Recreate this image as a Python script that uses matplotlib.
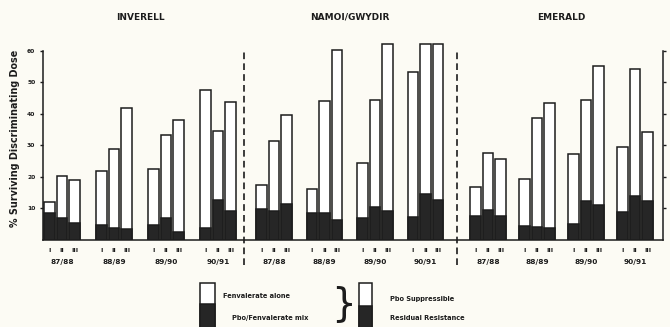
import matplotlib
matplotlib.use('Agg')
import matplotlib.pyplot as plt
from matplotlib.patches import Rectangle

# % surviving discriminating dose, three strains (I, II, III) per season
sites = ['INVERELL', 'NAMOI/GWYDIR', 'EMERALD']
seasons = ['87/88', '88/89', '89/90', '90/91']
strains = ['I', 'II', 'III']

# total height = fenvalerate alone
inverell_total = [12.0, 20.3, 19.0, 21.7, 28.9, 41.7, 22.3, 33.3, 38.1, 47.5, 34.4, 43.6]
namoi_total = [17.4, 31.3, 39.5, 16.1, 44.0, 60.3, 24.3, 44.2, 62.0, 53.2, 62.0, 62.0]
emerald_total = [16.8, 27.4, 25.5, 19.1, 38.7, 43.2, 27.3, 44.3, 55.0, 29.5, 54.0, 34.0]

# dark part = pbo/fenvalerate mix (residual resistance)
inverell_mix = [8.3, 6.9, 5.3, 4.7, 3.6, 3.3, 4.7, 6.8, 2.3, 3.6, 12.4, 9.0]
namoi_mix = [9.6, 9.0, 11.3, 8.5, 8.3, 6.3, 6.8, 10.3, 9.2, 7.1, 14.5, 12.6]
emerald_mix = [7.6, 9.5, 7.6, 4.4, 4.1, 3.6, 5.0, 12.3, 10.8, 8.7, 13.7, 12.3]

y_ticks = [10, 20, 30, 40, 50, 60]

totals = [inverell_total, namoi_total, emerald_total]
mixes = [inverell_mix, namoi_mix, emerald_mix]

W, H = 670, 327
bg = '#fcfbf4'
ink = '#1c1c1c'

fig = plt.figure(figsize=(W / 100, H / 100), dpi=100, facecolor=bg)

# main axes; x runs in figure pixels so the three panels can be laid out freely
x_left, x_right = 43, 663
y_base, y_top = 239.5, 38
ax = fig.add_axes([x_left / W, 1 - y_base / H, (x_right - x_left) / W, (y_base - y_top) / H])
ax.set_facecolor('none')
ax.set_xlim(x_left, x_right)
ax.set_ylim(0, 64)

panel_x0 = [44, 256, 470]
group_step = [52, 50.5, 49]
bar_step = 12.7
bar_w = 10.5

tick_pos, tick_lab = [], []
for p in range(3):
    for g, season in enumerate(seasons):
        for b in range(3):
            i = g * 3 + b
            x = panel_x0[p] + g * group_step[p] + b * bar_step
            ax.bar(x, totals[p][i], width=bar_w, align='edge', color='white',
                   edgecolor=ink, linewidth=1.1, zorder=2)
            ax.bar(x, mixes[p][i], width=bar_w, align='edge', color='#262626',
                   edgecolor=ink, linewidth=1.1, zorder=3)
            tick_pos.append(x + bar_w / 2)
            tick_lab.append(strains[b])
        xc = panel_x0[p] + g * group_step[p] + bar_step + bar_w / 2
        ax.text(xc, -7.3, season, ha='center', va='center', fontsize=5.3,
                fontweight='bold', color=ink)
    xt = panel_x0[p] + 1.5 * group_step[p] + bar_step + bar_w / 2
    fig.text(xt / W, 1 - 17.5 / H, sites[p], ha='center', va='center',
             fontsize=6.5, fontweight='bold', color=ink)

ax.set_xticks(tick_pos)
ax.set_xticklabels(tick_lab, fontsize=4.5, fontweight='bold', color=ink)
ax.tick_params(axis='x', length=0, pad=6)

ax.set_yticks(y_ticks)
ax.set_yticklabels([str(v) for v in y_ticks], fontsize=4.3, fontweight='bold', color=ink)
ax.tick_params(axis='y', which='both', direction='out', length=2.5, width=1,
               color=ink, left=True, right=True, labelright=False, pad=3)

for s in ['left', 'right']:
    ax.spines[s].set_bounds(0, 60)
    ax.spines[s].set_linewidth(1.1)
    ax.spines[s].set_color(ink)
ax.spines['top'].set_visible(False)
ax.spines['bottom'].set_linewidth(1.1)
ax.spines['bottom'].set_color(ink)

# dashed dividers between sites
for xd in [244, 457]:
    ax.plot([xd, xd], [-8.0, 60.3], color=ink, linewidth=1.2, dashes=(4, 2.5),
            clip_on=False, zorder=4)

fig.text(15 / W, 1 - 138 / H, '% Surviving Discriminating Dose', rotation=90,
         ha='center', va='center', fontsize=6.9, fontweight='bold', color=ink)

# legend drawn by hand in pixel space
lg = fig.add_axes([0, 0, 1, 1])
lg.set_xlim(0, W)
lg.set_ylim(H, 0)
lg.axis('off')
lg.set_facecolor('none')

for bx, bw, split in [(200, 15, 304), (359, 13, 306)]:
    lg.add_patch(Rectangle((bx, 283), bw, 50, facecolor='white', edgecolor=ink,
                           linewidth=1.1, clip_on=False))
    lg.add_patch(Rectangle((bx, split), bw, 30, facecolor='#262626', edgecolor=ink,
                           linewidth=1.1, clip_on=False))

lg.text(223, 296, 'Fenvalerate alone', fontsize=4.8, fontweight='bold',
        color=ink, va='center', ha='left')
lg.text(232, 318, 'Pbo/Fenvalerate mix', fontsize=4.8, fontweight='bold',
        color=ink, va='center', ha='left')
lg.text(390, 299, 'Pbo Suppressible', fontsize=4.8, fontweight='bold',
        color=ink, va='center', ha='left')
lg.text(390, 318, 'Residual Resistance', fontsize=4.8, fontweight='bold',
        color=ink, va='center', ha='left')
lg.text(343, 304, '}', fontsize=28, color=ink, va='center', ha='center')

fig.savefig('out.png', dpi=100, facecolor=bg)
